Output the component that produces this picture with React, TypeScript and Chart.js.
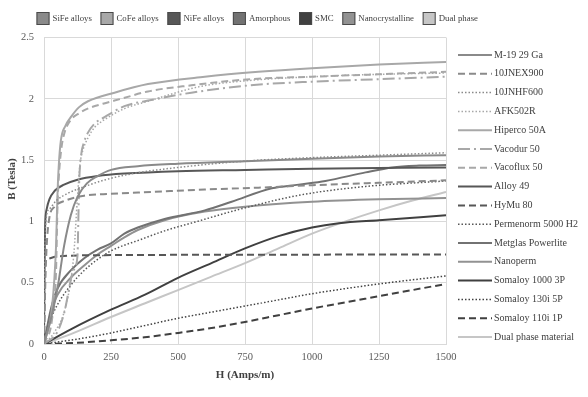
import React, { useEffect, useRef } from 'react';
import { Chart, registerables } from 'chart.js';

Chart.register(...registerables);

// ---- categories (material groups) ----
const groupNames = ['SiFe alloys', 'CoFe alloys', 'NiFe alloys', 'Amorphous', 'SMC', 'Nanocrystalline', 'Dual phase'];
const groupColors = ['#8a8a8a', '#a8a8a8', '#575757', '#727272', '#404040', '#929292', '#c6c6c6'];

// ---- series ----
const seriesNames = [
  'M-19 29 Ga', '10JNEX900', '10JNHF600', 'AFK502R', 'Hiperco 50A', 'Vacodur 50', 'Vacoflux 50',
  'Alloy 49', 'HyMu 80', 'Permenorm 5000 H2', 'Metglas Powerlite', 'Nanoperm',
  'Somaloy 1000 3P', 'Somaloy 130i 5P', 'Somaloy 110i 1P', 'Dual phase material',
];
const seriesGroup = [0, 0, 0, 1, 1, 1, 1, 2, 2, 2, 3, 5, 4, 4, 4, 6];
const seriesStyle = ['solid', 'dash', 'dot', 'dot', 'solid', 'dashdot', 'dash', 'solid', 'dash', 'dot', 'solid', 'solid', 'solid', 'dot', 'dash', 'solid'];

// ---- H (A/m) and B (T) values ----
const H_M19 = [0, 25, 50, 75, 100, 125, 160, 200, 250, 350, 500, 750, 1000, 1250, 1500];
const B_M19 = [0, 0.2, 0.45, 0.8, 1.05, 1.2, 1.31, 1.37, 1.42, 1.45, 1.47, 1.49, 1.51, 1.53, 1.54];
const H_JNEX = [0, 5, 10, 20, 40, 80, 150, 250, 400, 600, 800, 1000, 1250, 1500];
const B_JNEX = [0, 0.5, 0.8, 1.03, 1.12, 1.17, 1.21, 1.225, 1.24, 1.26, 1.275, 1.295, 1.315, 1.335];
const H_JNHF = [0, 3, 9, 20, 46, 90, 146, 230, 332, 500, 770, 1000, 1250, 1500];
const B_JNHF = [0, 0.7, 1.04, 1.1, 1.17, 1.23, 1.28, 1.34, 1.39, 1.44, 1.495, 1.52, 1.54, 1.56];
const H_AFK = [0, 40, 80, 110, 125, 134, 145, 164, 190, 226, 300, 388, 582, 769, 1000, 1250, 1500];
const B_AFK = [0, 0.1, 0.3, 0.7, 1.2, 1.46, 1.58, 1.68, 1.77, 1.83, 1.92, 1.98, 2.1, 2.15, 2.18, 2.2, 2.21];
const H_HIP = [0, 30, 45, 50, 55, 63, 80, 100, 130, 164, 263, 388, 600, 800, 1000, 1250, 1500];
const B_HIP = [0, 0.3, 0.8, 1.2, 1.45, 1.66, 1.78, 1.85, 1.93, 1.98, 2.05, 2.12, 2.18, 2.22, 2.25, 2.28, 2.3];
const H_VDUR = [0, 50, 75, 110, 125, 128, 131, 138, 150, 163, 190, 226, 300, 400, 550, 769, 1000, 1250, 1500];
const B_VDUR = [0, 0.1, 0.25, 0.6, 0.72, 1.0, 1.3, 1.53, 1.65, 1.72, 1.8, 1.85, 1.94, 1.99, 2.05, 2.11, 2.14, 2.16, 2.18];
const H_VFLX = [0, 30, 45, 50, 55, 64, 76, 101, 130, 163, 220, 288, 388, 550, 769, 1000, 1250, 1500];
const B_VFLX = [0, 0.2, 0.6, 1.1, 1.35, 1.58, 1.72, 1.83, 1.88, 1.92, 1.96, 2.0, 2.06, 2.11, 2.16, 2.18, 2.2, 2.22];
const H_A49 = [0, 2, 4, 10, 20, 40, 75, 125, 200, 300, 500, 750, 1000, 1500];
const B_A49 = [0, 0.6, 0.95, 1.1, 1.18, 1.25, 1.3, 1.34, 1.37, 1.39, 1.41, 1.42, 1.43, 1.44];
const H_HYMU = [0, 3, 10, 50, 250, 1500];
const B_HYMU = [0, 0.65, 0.69, 0.715, 0.725, 0.73];
const H_PERM = [0, 25, 50, 100, 150, 200, 250, 358, 460, 556, 732, 956, 1200, 1500];
const B_PERM = [0, 0.2, 0.32, 0.48, 0.6, 0.69, 0.76, 0.85, 0.93, 0.99, 1.1, 1.215, 1.285, 1.33];
const H_MET = [0, 25, 50, 100, 150, 200, 250, 300, 350, 450, 600, 700, 850, 950, 1050, 1200, 1300, 1400, 1500];
const B_MET = [0, 0.28, 0.45, 0.6, 0.7, 0.77, 0.82, 0.9, 0.95, 1.02, 1.09, 1.16, 1.27, 1.3, 1.33, 1.4, 1.44, 1.455, 1.46];
const H_NANO = [0, 25, 50, 100, 150, 200, 250, 300, 350, 450, 600, 750, 1000, 1250, 1500];
const B_NANO = [0, 0.25, 0.4, 0.54, 0.64, 0.73, 0.8, 0.87, 0.93, 1.01, 1.08, 1.12, 1.16, 1.18, 1.19];
const H_S1000 = [0, 100, 250, 375, 500, 625, 750, 875, 1000, 1100, 1250, 1500];
const B_S1000 = [0, 0.12, 0.28, 0.4, 0.54, 0.66, 0.78, 0.88, 0.95, 0.985, 1.01, 1.05];
const H_S130 = [0, 125, 250, 375, 500, 625, 750, 875, 1000, 1250, 1500];
const B_S130 = [0, 0.04, 0.09, 0.15, 0.21, 0.26, 0.31, 0.36, 0.41, 0.49, 0.555];
const H_S110 = [0, 125, 250, 375, 500, 625, 750, 875, 1000, 1125, 1250, 1375, 1500];
const B_S110 = [0, 0.01, 0.03, 0.055, 0.09, 0.13, 0.18, 0.235, 0.29, 0.34, 0.39, 0.44, 0.49];
const H_DUAL = [0, 100, 250, 375, 500, 625, 750, 875, 1000, 1125, 1250, 1375, 1500];
const B_DUAL = [0, 0.08, 0.22, 0.33, 0.44, 0.55, 0.66, 0.78, 0.9, 1.0, 1.09, 1.17, 1.24];

const seriesH = [H_M19, H_JNEX, H_JNHF, H_AFK, H_HIP, H_VDUR, H_VFLX, H_A49, H_HYMU, H_PERM, H_MET, H_NANO, H_S1000, H_S130, H_S110, H_DUAL];
const seriesB = [B_M19, B_JNEX, B_JNHF, B_AFK, B_HIP, B_VDUR, B_VFLX, B_A49, B_HYMU, B_PERM, B_MET, B_NANO, B_S1000, B_S130, B_S110, B_DUAL];

// ---- axes ----
const xTicks = [0, 250, 500, 750, 1000, 1250, 1500];
const yTicks = [0, 0.5, 1, 1.5, 2, 2.5];
const xTitle = 'H (Amps/m)';
const yTitle = 'B (Tesla)';

const SERIF = '"Liberation Serif", "Times New Roman", serif';

const styleDash: Record<string, number[]> = {
  solid: [],
  dash: [7, 4],
  dot: [1.5, 2],
  dashdot: [12, 4, 2, 4],
};
const styleWidth: Record<string, number> = { solid: 2, dash: 2, dot: 1.5, dashdot: 2 };

const legendsPlugin = {
  id: 'customLegends',
  afterDraw(chart: any) {
    const { ctx, chartArea } = chart;
    ctx.save();
    // top legend (material groups)
    ctx.font = `8.8px ${SERIF}`;
    ctx.textBaseline = 'middle';
    ctx.textAlign = 'left';
    const box = 13;
    const startX = chartArea.left - 7.5;
    const endX = chartArea.left + 434;
    const textW = groupNames.map((n) => ctx.measureText(n).width);
    const used = textW.reduce((a: number, w: number) => a + box + 3 + w, 0);
    const gap = (endX - startX - used) / (groupNames.length - 1);
    let x = startX;
    const yc = 18.5;
    groupNames.forEach((name, i) => {
      ctx.fillStyle = groupColors[i];
      ctx.fillRect(x, yc - box / 2, box, box);
      ctx.strokeStyle = '#4a4a4a';
      ctx.lineWidth = 1;
      ctx.strokeRect(x + 0.5, yc - box / 2 + 0.5, box - 1, box - 1);
      ctx.fillStyle = '#404040';
      ctx.fillText(name, x + box + 3, yc);
      x += box + 3 + textW[i] + gap;
    });
    // right legend (series)
    ctx.font = `10px ${SERIF}`;
    const lx = chartArea.right + 12;
    seriesNames.forEach((name, i) => {
      const y = chartArea.top + 17.5 + i * 18.8;
      const st = seriesStyle[i];
      ctx.strokeStyle = groupColors[seriesGroup[i]];
      ctx.lineWidth = styleWidth[st];
      ctx.setLineDash(styleDash[st]);
      ctx.beginPath();
      ctx.moveTo(lx, y);
      ctx.lineTo(lx + 34, y);
      ctx.stroke();
      ctx.setLineDash([]);
      ctx.fillStyle = '#404040';
      ctx.fillText(name, lx + 36, y);
    });
    // axis titles
    ctx.font = `bold 11px ${SERIF}`;
    ctx.fillStyle = '#404040';
    ctx.textAlign = 'center';
    ctx.fillText(xTitle, (chartArea.left + chartArea.right) / 2, 375);
    ctx.translate(12, 179);
    ctx.rotate(-Math.PI / 2);
    ctx.fillText(yTitle, 0, 0);
    ctx.restore();
  },
};

export default function App() {
  const ref = useRef<HTMLCanvasElement | null>(null);
  useEffect(() => {
    if (!ref.current) return;
    const datasets = seriesNames.map((name, i) => {
      const st = seriesStyle[i];
      return {
        label: name,
        data: seriesH[i].map((h, j) => ({ x: h, y: seriesB[i][j] })),
        borderColor: groupColors[seriesGroup[i]],
        backgroundColor: groupColors[seriesGroup[i]],
        borderWidth: styleWidth[st],
        borderDash: styleDash[st],
        pointRadius: 0,
        cubicInterpolationMode: 'monotone' as const,
        fill: false,
      };
    });
    const chart = new Chart(ref.current, {
      type: 'line',
      data: { datasets },
      plugins: [legendsPlugin],
      options: {
        responsive: false,
        animation: false,
        devicePixelRatio: 1,
        layout: { padding: { top: 37.5, right: 142, left: 0, bottom: 0 } },
        plugins: { legend: { display: false }, tooltip: { enabled: false } },
        scales: {
          x: {
            type: 'linear',
            min: 0,
            max: 1500,
            afterFit: (s: any) => { s.height = 53; },
            afterBuildTicks: (s: any) => { s.ticks = xTicks.map((v) => ({ value: v })); },
            grid: { color: '#d9d9d9', drawTicks: false },
            border: { color: '#d9d9d9' },
            ticks: {
              padding: 7,
              maxRotation: 0,
              color: '#595959',
              font: { family: SERIF, size: 10.5 },
              callback: (v: any) => String(v),
            },
          },
          y: {
            type: 'linear',
            min: 0,
            max: 2.5,
            afterFit: (s: any) => { s.width = 44; },
            afterBuildTicks: (s: any) => { s.ticks = yTicks.map((v) => ({ value: v })); },
            grid: { color: '#d9d9d9', drawTicks: false },
            border: { color: '#d9d9d9' },
            ticks: {
              padding: 10,
              color: '#595959',
              font: { family: SERIF, size: 10.5 },
              callback: (v: any) => String(v),
            },
          },
        },
      },
    });
    return () => chart.destroy();
  }, []);
  return (
    <div style={{ position: 'absolute', left: 0, top: 0, width: 588, height: 397, background: '#fff' }}>
      <canvas ref={ref} width={588} height={397} />
    </div>
  );
}
